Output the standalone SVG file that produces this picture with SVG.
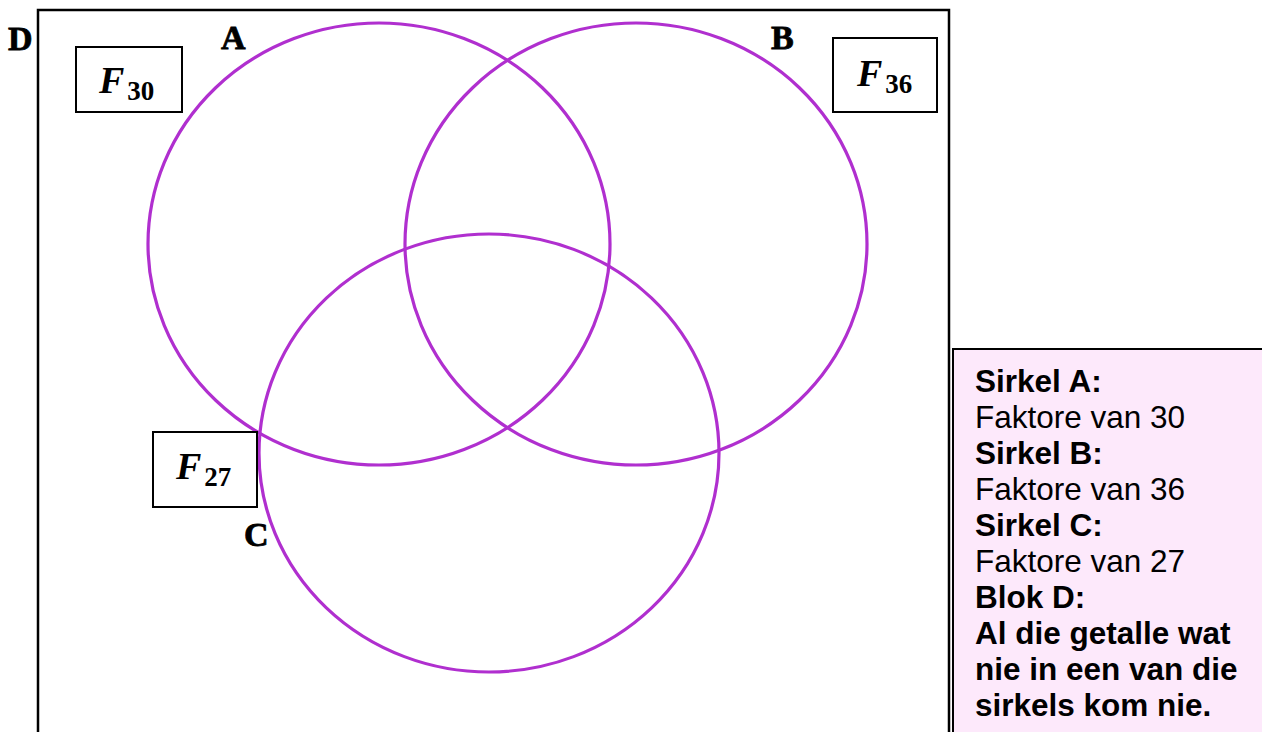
<svg xmlns="http://www.w3.org/2000/svg" width="1262" height="732" viewBox="0 0 1262 732">
<style>
.circ{fill:none;stroke:#B02FCF;stroke-width:3.2}
.box{fill:#fff;stroke:#000;stroke-width:2}
.lbl{font-family:"Liberation Serif",serif;font-weight:bold;font-size:34px;fill:#000;stroke:#000;stroke-width:0.8}
.fv{font-family:"Liberation Serif",serif;font-weight:bold;font-style:italic;font-size:38px;fill:#000}
.sub{font-family:"Liberation Serif",serif;font-weight:bold;font-style:normal;font-size:27px}
.leg{font-family:"Liberation Sans",Arial,sans-serif;font-size:31.5px;fill:#000}
.b{font-weight:bold}
</style>
<rect width="1262" height="732" fill="#fff"/>
<g id="universe">
<path d="M38,740 L38,10 L949,10 L949,740" fill="none" stroke="#000" stroke-width="2.5"/>
<text class="lbl" x="8" y="50">D</text>
</g>
<g id="legend">
<rect x="954" y="350" width="310" height="390" fill="#FDE9FB"/>
<path d="M953,740 L953,349 L1270,349" fill="none" stroke="#000" stroke-width="2"/>
<text class="leg" x="975" y="392"><tspan class="b">Sirkel A:</tspan><tspan x="975" dy="36">Faktore van 30</tspan><tspan class="b" x="975" dy="36">Sirkel B:</tspan><tspan x="975" dy="36">Faktore van 36</tspan><tspan class="b" x="975" dy="36">Sirkel C:</tspan><tspan x="975" dy="36">Faktore van 27</tspan><tspan class="b" x="975" dy="36">Blok D:</tspan><tspan class="b" x="975" dy="36">Al die getalle wat</tspan><tspan class="b" x="975" dy="36">nie in een van die</tspan><tspan class="b" x="975" dy="36">sirkels kom nie.</tspan></text>
</g>
<g id="circleA">
<ellipse class="circ" cx="379" cy="244" rx="231" ry="221"/>
<text class="lbl" x="221" y="49">A</text>
</g>
<g id="circleB">
<ellipse class="circ" cx="636" cy="244" rx="231" ry="221"/>
<text class="lbl" x="771" y="49">B</text>
</g>
<g id="circleC">
<ellipse class="circ" cx="489" cy="453" rx="230" ry="219"/>
<text class="lbl" x="244" y="546">C</text>
</g>
<g id="F30">
<rect class="box" x="76" y="47" width="106" height="65"/>
<text class="fv" x="99" y="93">F<tspan class="sub" dx="3" dy="7">30</tspan></text>
</g>
<g id="F36">
<rect class="box" x="833" y="38" width="104" height="74"/>
<text class="fv" x="857" y="86">F<tspan class="sub" dx="3" dy="7">36</tspan></text>
</g>
<g id="F27">
<rect class="box" x="153" y="432" width="104" height="75"/>
<text class="fv" x="176" y="479">F<tspan class="sub" dx="3" dy="7">27</tspan></text>
</g>
</svg>
